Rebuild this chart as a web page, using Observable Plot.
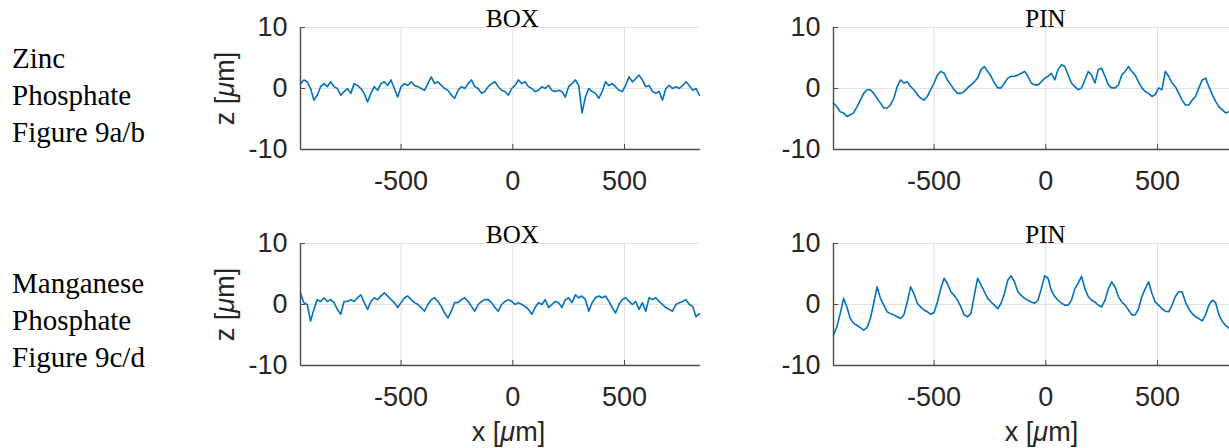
<!DOCTYPE html>
<html>
<head>
<meta charset="utf-8">
<script src="https://cdn.jsdelivr.net/npm/d3@7"></script>
<script src="https://cdn.jsdelivr.net/npm/@observablehq/plot@0.6"></script>
<style>
  html, body { margin: 0; padding: 0; background: #fff; overflow: hidden; }
  #wrap { position: relative; width: 1229px; height: 448px; overflow: hidden; background: #fff; }
  .panel { position: absolute; }
  .rowlabel { position: absolute; left: 12px; font-family: "Liberation Serif", "Times New Roman", serif; font-size: 29px; line-height: 37px; color: #000; white-space: nowrap; }
</style>
</head>
<body>
<div id="wrap"></div>
<script>
// ---- data ----
const xPositions = [
  -950, -935, -920, -905, -890, -875, -860, -845, -830, -815,
  -800, -785, -770, -755, -740, -725, -710, -695, -680, -665,
  -650, -635, -620, -605, -590, -575, -560, -545, -530, -515,
  -500, -485, -470, -455, -440, -425, -410, -395, -380, -365,
  -350, -335, -320, -305, -290, -275, -260, -245, -230, -215,
  -200, -185, -170, -155, -140, -125, -110, -95, -80, -65,
  -50, -35, -20, -5, 10, 25, 40, 55, 70, 85,
  100, 115, 130, 145, 160, 175, 190, 205, 220, 235,
  250, 265, 280, 295, 310, 325, 340, 355, 370, 385,
  400, 415, 430, 445, 460, 475, 490, 505, 520, 535,
  550, 565, 580, 595, 610, 625, 640, 655, 670, 685,
  700, 715, 730, 745, 760, 775, 790, 805, 820, 835
];

// Figure 9a: Zinc phosphate, BOX
const zincBox = [
  0.8, 1.4, 1.1, 0, -1.9, -1.1, 0.3, 0.8, 0.3, 1.1,
  0.3, 0, -1.1, -0.5, 0, -0.8, 0.8, 0.5, 0, -0.8,
  -2.2, -0.8, 0.3, -0.3, 0.8, 1.1, 0.5, 1.4, 0, -1.4,
  0.3, 0.8, 0.5, 1.1, 0.5, 0.3, 0, -0.3, 0.8, 1.9,
  0.8, 1.1, 0.5, 0, -0.3, -1.1, -1.6, -0.3, 0.3, 0,
  0.8, 1.4, 0.3, 0, -0.8, -0.5, 0.3, 0.8, 1.1, 0.3,
  -0.3, -0.5, -1.1, 0, 0.5, 1.4, 0.8, 1.1, 0.3, 0,
  -0.5, -0.3, 0.3, 0, 0.5, -0.3, -0.5, -0.3, -0.5, -1.4,
  0.3, 0.8, 1.4, 0.5, -4.0, -1.4, 0, -0.5, -0.8, -1.6,
  -0.5, 1.1, 0.5, 0.8, 0.3, -0.3, -0.5, 0.5, 1.9, 1.1,
  1.6, 2.2, 1.4, 0.3, 0.5, -0.5, -0.8, -0.5, -1.9, 0,
  0.5, 0, 0.3, 0, 0.5, 1.1, 0.5, -0.3, 0, -1.1
];

// Figure 9b: Zinc phosphate, PIN
const zincPin = [
  -2.4, -3.0, -3.8, -4.0, -4.6, -4.3, -4.0, -3.0, -1.9, -0.8,
  -0.2, -0.2, -0.8, -1.6, -2.4, -3.2, -3.2, -2.7, -1.6, 0.3,
  1.4, 0.9, 1.1, 0.3, -0.2, -1.0, -1.6, -1.9, -1.3, -0.2,
  0.9, 2.2, 2.8, 2.5, 1.4, 0.6, -0.2, -0.8, -0.8, -0.5,
  0.1, 0.6, 1.1, 1.7, 3.1, 3.6, 2.8, 2.0, 0.9, 0.1,
  0.1, 0.9, 1.7, 2.0, 2.0, 2.2, 2.5, 2.8, 2.0, 0.9,
  0.6, 0.6, 1.1, 1.7, 2.0, 2.5, 1.4, 3.1, 3.9, 3.6,
  2.2, 0.9, 0.3, -0.2, 0.1, 1.4, 2.8, 2.2, 0.9, 3.1,
  3.3, 2.0, 0.6, 0.1, 0.1, 0.6, 2.2, 2.8, 3.6, 2.8,
  2.2, 1.1, 0.1, -0.5, -0.8, -1.3, -1.0, 0.1, -0.2, 2.8,
  2.0, 0.9, 0.3, -0.8, -1.9, -2.7, -2.7, -1.9, -1.3, 0.1,
  1.4, 1.7, 0.3, -1.0, -2.1, -3.0, -3.5, -4.0, -3.8, -3.5
];

// Figure 9c: Manganese phosphate, BOX
const manganeseBox = [
  1.9, 0.3, 0, -2.7, -0.8, 0.8, 0.5, 1.1, 0.5, 0.8,
  0.3, -0.8, -1.6, 0.5, 0.5, 0.8, 0.5, 1.1, 1.6, 0.3,
  -0.8, 0.5, 1.1, 0.8, 1.4, 1.9, 1.4, 0.8, 0.3, -0.5,
  0.3, 1.1, 1.4, 0.8, 0.3, 0, -0.5, -1.1, 0, 0.8,
  1.1, 0.5, -0.3, -1.4, -2.2, -1.1, 0.3, 0.3, 0.8, 1.1,
  0.5, -0.3, -1.1, 0, 0.5, 0.8, 0.8, 0.3, -0.5, -1.1,
  0, 0.5, 0.8, 0.5, 0, 0.3, 0, -0.3, -0.8, -1.6,
  -0.5, 0.3, 0, 0.8, -0.5, 0, 0.5, 0.3, -0.5, 0.8,
  1.1, 0.3, 1.6, 1.1, 1.4, 0.8, -1.1, 0.3, 1.1, 1.4,
  1.1, 1.4, 0.5, -0.5, -1.4, 0, 0.8, 1.1, 0.5, 0,
  0.5, -0.8, 0.3, -1.1, 1.1, 0.8, 1.1, 0.5, 0, -0.5,
  -0.8, -1.1, 0, 0.3, 0.5, 0.8, 0, -0.3, -2.0, -1.5
];

// Figure 9d: Manganese phosphate, PIN
const manganesePin = [
  -5.0, -3.7, -1.5, 1.0, -0.4, -2.3, -3.1, -3.4, -3.8, -4.2,
  -3.8, -2.3, 0.2, 2.9, 1.0, -0.1, -1.2, -1.5, -1.7, -2.0,
  -2.3, -1.7, 0.4, 2.9, 1.8, 0.2, -0.4, -0.9, -1.2, -1.6,
  -1.3, 0.4, 2.6, 4.3, 3.4, 2.1, 1.5, 0.7, -0.4, -1.7,
  -2.0, -1.5, 1.5, 4.3, 3.2, 2.1, 1.0, 0.4, -0.1, -0.7,
  0.2, 1.8, 4.0, 4.7, 3.7, 2.1, 1.5, 1.0, 0.7, 0.4,
  0.2, 0.7, 2.6, 4.7, 4.3, 2.3, 1.3, 0.7, 0.2, -0.1,
  -0.1, 0.7, 2.6, 3.5, 4.6, 2.6, 1.3, 0.7, 0.4, -0.1,
  -0.4, 0.7, 2.6, 3.7, 2.9, 1.3, 0.4, -0.1, -0.9, -1.7,
  -1.7, -0.7, 1.3, 2.6, 3.7, 1.8, 0.4, -0.1, -0.7, -1.1,
  -1.2, -0.1, 1.3, 2.1, 2.1, 0.4, -0.7, -1.5, -2.0, -2.3,
  -2.7, -1.7, -0.1, 0.7, 0.3, -1.7, -2.8, -3.4, -3.9, -4.4
];

const xTicks = [-500, 0, 500];
const yTicks = [-10, 0, 10];
const xDomain = [-950, 840];
const yDomain = [-10, 10];
const panelTitles = ["BOX", "PIN"];
const rowLabels = [
  ["Zinc", "Phosphate", "Figure 9a/b"],
  ["Manganese", "Phosphate", "Figure 9c/d"]
];
const xLabel = "x [μm]";
const zLabel = "z [μm]";

// ---- layout / styling ----
const SANS = "'Liberation Sans', Arial, Helvetica, sans-serif";
const SERIF = "'Liberation Serif', 'Times New Roman', serif";
const LINE_COLOR = "#0072BD";
const GRID_COLOR = "#e1e1e1";
const AXIS_COLOR = "#4a4a4a";
const TEXT_COLOR = "#262626";

function italicMu(svg) {
  d3.select(svg).selectAll("text").each(function () {
    const tspans = this.querySelectorAll("tspan");
    const targets = tspans.length ? Array.from(tspans) : [this];
    for (const t of targets) {
      const s = t.textContent;
      const k = s.indexOf("μ");
      if (k < 0) continue;
      t.textContent = "";
      const sel = d3.select(t);
      sel.append("tspan").text(s.slice(0, k));
      sel.append("tspan").attr("font-style", "italic").text("μ");
      sel.append("tspan").text(s.slice(k + 1));
    }
  });
}

function makePanel(z, title, {showZLabel, showXLabel, marginBottom}) {
  const data = xPositions.map((x, i) => ({x, z: z[i]})).filter(d => d.z != null);
  const marks = [
    Plot.gridX(xTicks, {stroke: GRID_COLOR, strokeOpacity: 1, strokeWidth: 1}),
    Plot.gridY(yTicks, {stroke: GRID_COLOR, strokeOpacity: 1, strokeWidth: 1}),
    Plot.line(data, {x: "x", y: "z", stroke: LINE_COLOR, strokeWidth: 1.6}),
    // inward tick marks
    Plot.axisX(xTicks, {anchor: "bottom", tickSize: 5, dy: -5, tickFormat: () => "", label: null, color: AXIS_COLOR}),
    Plot.axisY(yTicks, {anchor: "left", tickSize: 5, dx: 5, tickFormat: () => "", label: null, color: AXIS_COLOR}),
    // tick labels
    Plot.axisX(xTicks, {anchor: "bottom", tickSize: 0, tickPadding: 21, fontSize: 27, tickFormat: d => String(d), label: null}),
    Plot.axisY(yTicks, {anchor: "left", tickSize: 0, tickPadding: 13, fontSize: 27, tickFormat: d => String(d), label: null}),
    // axis lines (left and bottom only)
    Plot.ruleX([xDomain[0]], {stroke: AXIS_COLOR, strokeWidth: 1.4}),
    Plot.ruleY([yDomain[0]], {stroke: AXIS_COLOR, strokeWidth: 1.4}),
    // panel title
    Plot.text([title], {text: d => d, frameAnchor: "top", lineAnchor: "bottom", dy: -1, dx: 12,
      fontSize: 25, fontFamily: SERIF, fill: "#000"})
  ];
  if (showZLabel) {
    marks.push(Plot.text([zLabel], {text: d => d, frameAnchor: "left", rotate: -90, dx: -75,
      textAnchor: "middle", lineAnchor: "middle", fontSize: 27, fill: TEXT_COLOR}));
  }
  if (showXLabel) {
    marks.push(Plot.text([xLabel], {text: d => d, frameAnchor: "bottom", dy: 67, dx: 8,
      textAnchor: "middle", lineAnchor: "middle", fontSize: 27, fill: TEXT_COLOR}));
  }
  const svg = Plot.plot({
    width: 510,
    height: 27 + 122 + marginBottom,
    marginLeft: 100,
    marginRight: 10,
    marginTop: 27,
    marginBottom,
    x: {domain: xDomain},
    y: {domain: yDomain},
    style: {fontFamily: SANS, color: TEXT_COLOR, background: "transparent", overflow: "visible"},
    marks
  });
  italicMu(svg);
  return svg;
}

const wrap = document.getElementById("wrap");
const panels = [
  {z: zincBox, title: panelTitles[0], left: 200, top: 0, row: 0, col: 0},
  {z: zincPin, title: panelTitles[1], left: 733, top: 0, row: 0, col: 1},
  {z: manganeseBox, title: panelTitles[0], left: 200, top: 216, row: 1, col: 0},
  {z: manganesePin, title: panelTitles[1], left: 733, top: 216, row: 1, col: 1}
];
for (const p of panels) {
  const svg = makePanel(p.z, p.title, {
    showZLabel: p.col === 0,
    showXLabel: p.row === 1,
    marginBottom: p.row === 1 ? 83 : 53
  });
  svg.classList.add("panel");
  svg.style.left = p.left + "px";
  svg.style.top = p.top + "px";
  wrap.appendChild(svg);
}

// row labels
const rowTops = [40, 265];
rowLabels.forEach((lines, r) => {
  const div = document.createElement("div");
  div.className = "rowlabel";
  div.style.top = rowTops[r] + "px";
  div.innerHTML = lines.map(s => `<div>${s}</div>`).join("");
  wrap.appendChild(div);
});
</script>
</body>
</html>
